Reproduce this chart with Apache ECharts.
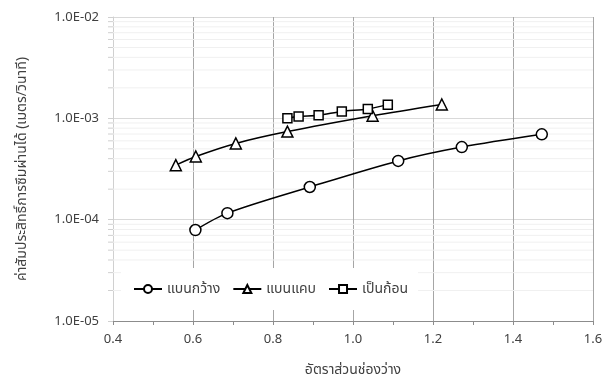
<!DOCTYPE html>
<html>
<head>
<meta charset="utf-8">
<script src="https://cdn.jsdelivr.net/npm/echarts@6/dist/echarts.min.js"></script>
<style>html,body{margin:0;padding:0;background:#fff;}#c{width:607px;height:378px;}</style>
</head>
<body>
<div id="c"></div>
<script>
var seriesNames = ['แบนกว้าง', 'แบนแคบ', 'เป็นก้อน'];
var flatWideX = [0.606, 0.686, 0.892, 1.113, 1.272, 1.472];
var flatWideY = [7.9e-5, 1.16e-4, 2.1e-4, 3.8e-4, 5.2e-4, 6.95e-4];
var flatNarrowX = [0.557, 0.607, 0.707, 0.836, 1.049, 1.222];
var flatNarrowY = [3.45e-4, 4.2e-4, 5.65e-4, 7.4e-4, 1.06e-3, 1.37e-3];
var lumpX = [0.836, 0.864, 0.914, 0.972, 1.037, 1.087];
var lumpY = [1.0e-3, 1.04e-3, 1.07e-3, 1.17e-3, 1.235e-3, 1.365e-3];
var minorGridValues = [];
[1e-5, 1e-4, 1e-3].forEach(function (d) { for (var k = 2; k <= 9; k++) minorGridValues.push(+(k * d).toPrecision(3)); });

function pairs(xs, ys) { return xs.map(function (x, i) { return [x, ys[i]]; }); }
var font = '"Noto Sans", "Noto Sans Thai", Tahoma, sans-serif';
var chart = echarts.init(document.getElementById('c'), null, { renderer: 'canvas' });
function mkSeries(name, xs, ys, symbol, size) {
  return {
    name: name, type: 'line', data: pairs(xs, ys), smooth: 0.3,
    symbol: symbol, symbolSize: size, showAllSymbol: true,
    lineStyle: { color: '#000', width: 1.5 },
    itemStyle: { color: '#fff', borderColor: '#000', borderWidth: 1.5 },
    z: 5
  };
}
var option = {
  animation: false,
  backgroundColor: '#fff',
  grid: { left: 113, right: 14, top: 17, bottom: 57, outerBoundsMode: 'none', containLabel: false },
  legend: {
    left: 121, top: 268, width: 298, height: 44,
    backgroundColor: '#fff', padding: [14, 10, 14, 12],
    itemGap: 12, itemWidth: 28, itemHeight: 10,
    textStyle: { fontFamily: font, fontSize: 14, color: '#404040' },
    data: seriesNames
  },
  xAxis: {
    type: 'value', min: 0.4, max: 1.6, interval: 0.2,
    name: 'อัตราส่วนช่องว่าง', nameLocation: 'middle', nameGap: 42,
    nameTextStyle: { fontFamily: font, fontSize: 14, color: '#404040' },
    axisLine: { show: true, lineStyle: { color: '#8c8c8c', width: 1 } },
    axisTick: { show: true, length: 4, lineStyle: { color: '#8c8c8c' } },
    minorTick: { show: true, splitNumber: 2, length: 4, lineStyle: { color: '#8c8c8c' } },
    axisLabel: { fontFamily: font, fontSize: 13, color: '#404040', margin: 12, formatter: function (v) { return v.toFixed(1); } },
    splitLine: { show: true, lineStyle: { color: '#a6a6a6', width: 1 } }
  },
  yAxis: {
    type: 'log', logBase: 10, min: 1e-5, max: 1e-2,
    name: 'ค่าสัมประสิทธิ์การซึมผ่านได้ (เมตร/วินาที)', nameLocation: 'middle', nameGap: 84,
    nameTextStyle: { fontFamily: font, fontSize: 14, color: '#404040' },
    axisLine: { show: true, lineStyle: { color: '#d0d0d0', width: 1 } },
    axisTick: { show: true, length: 5, lineStyle: { color: '#d0d0d0' } },
    axisLabel: {
      fontFamily: font, fontSize: 13, color: '#404040', margin: 14,
      formatter: function (v) {
        var e = Math.round(Math.log10(v));
        return '1.0E' + (e < 0 ? '-' : '+') + String(Math.abs(e)).padStart(2, '0');
      }
    },
    splitLine: { show: true, lineStyle: { color: '#d9d9d9', width: 1 } }
  },
  series: [
    {
      type: 'custom', name: 'minorGrid', silent: true, clip: false, z: 1,
      data: minorGridValues.map(function (v) { return [0.4, v]; }),
      encode: { x: 0, y: 1 },
      renderItem: function (params, api) {
        var p0 = api.coord([0.4, api.value(1)]);
        var p1 = api.coord([1.6, api.value(1)]);
        return {
          type: 'group', children: [
            { type: 'line', shape: { x1: p0[0], y1: p0[1], x2: p1[0], y2: p1[1] }, style: { stroke: '#f0f0f0', lineWidth: 1 } },
            { type: 'line', shape: { x1: p0[0] - 5, y1: p0[1], x2: p0[0], y2: p0[1] }, style: { stroke: '#d0d0d0', lineWidth: 1 } }
          ]
        };
      }
    },
    mkSeries(seriesNames[0], flatWideX, flatWideY, 'circle', 11),
    mkSeries(seriesNames[1], flatNarrowX, flatNarrowY, 'triangle', 11),
    mkSeries(seriesNames[2], lumpX, lumpY, 'rect', 9)
  ]
};
chart.setOption(option);
</script>
</body>
</html>
